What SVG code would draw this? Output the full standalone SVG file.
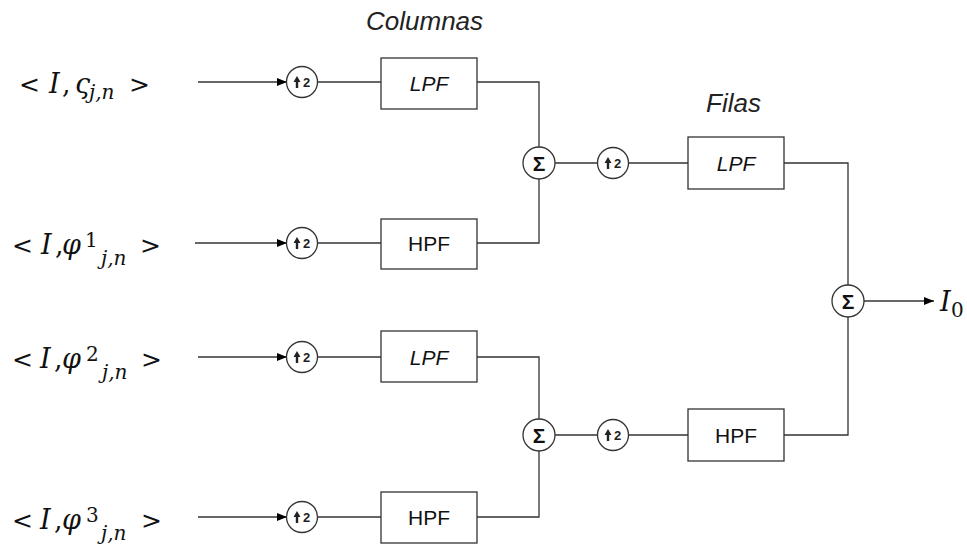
<svg xmlns="http://www.w3.org/2000/svg" width="967" height="546" viewBox="0 0 967 546">
  <defs>
    <marker id="arr" viewBox="0 0 10 10" refX="10" refY="5" markerWidth="10" markerHeight="10" markerUnits="userSpaceOnUse" orient="auto">
      <path d="M0,1 L10,5 L0,9 Z" fill="#000"/>
    </marker>
    <!-- upsample-by-2 symbol -->
    <g id="up2">
      <circle r="15.5" class="node"/>
      <path d="M-5,-6 L-1.5,0 L-3.8,0 L-3.8,6 L-6.2,6 L-6.2,0 L-8.5,0 Z" fill="#222"/>
      <text x="4.5" y="5" class="up">2</text>
    </g>
    <!-- adder symbol -->
    <g id="sum">
      <circle r="16" class="node"/>
      <text y="7.5" class="sig">Σ</text>
    </g>
  </defs>
  <style>
    .node { fill: #fff; stroke: #333; stroke-width: 1.3; }
    .box { fill: #fff; stroke: #333; stroke-width: 1.3; }
    .wire { fill: none; stroke: #333; stroke-width: 1.3; }
    .lbl { font-family: "Liberation Sans", Arial, sans-serif; font-size: 21px; fill: #111; text-anchor: middle; }
    .it { font-style: italic; }
    .title { font-family: "Liberation Sans", Arial, sans-serif; font-size: 26px; font-style: italic; fill: #222; }
    .up { font-family: "Liberation Sans", Arial, sans-serif; font-size: 13px; font-weight: bold; fill: #222; text-anchor: middle; }
    .sig { font-family: "Liberation Sans", Arial, sans-serif; font-size: 21px; font-weight: bold; fill: #111; text-anchor: middle; }
    .math { font-family: "DejaVu Serif", "Liberation Serif", serif; font-size: 27px; fill: #111; }
    .var { font-style: italic; }
    .rel { font-family: "DejaVu Sans", sans-serif; font-size: 25px; }
    .sub { font-size: 20px; }
  </style>
  <rect width="967" height="546" fill="#fff"/>

  <text class="title" x="366" y="30">Columnas</text>
  <text class="title" x="706" y="112">Filas</text>

  <!-- input coefficient labels -->
  <g id="in1">
    <text class="math" y="93"><tspan class="rel" x="19">&lt;</tspan><tspan class="var" x="49">I</tspan><tspan x="62">,</tspan><tspan class="var" x="75">ς</tspan><tspan class="sub var" x="89" y="99">j,n</tspan><tspan class="rel" x="129" y="93">&gt;</tspan></text>
  </g>
  <g id="in2">
    <text class="math" y="254"><tspan class="rel" x="12">&lt;</tspan><tspan class="var" x="41">I</tspan><tspan x="55">,</tspan><tspan class="var" x="62">φ</tspan><tspan class="sub" x="85" y="247">1</tspan><tspan class="sub var" x="101" y="265">j,n</tspan><tspan class="rel" x="140" y="254">&gt;</tspan></text>
  </g>
  <g id="in3">
    <text class="math" y="368"><tspan class="rel" x="12">&lt;</tspan><tspan class="var" x="40">I</tspan><tspan x="54">,</tspan><tspan class="var" x="62">φ</tspan><tspan class="sub" x="86" y="361">2</tspan><tspan class="sub var" x="102" y="379">j,n</tspan><tspan class="rel" x="141" y="368">&gt;</tspan></text>
  </g>
  <g id="in4">
    <text class="math" y="529"><tspan class="rel" x="12">&lt;</tspan><tspan class="var" x="40">I</tspan><tspan x="54">,</tspan><tspan class="var" x="62">φ</tspan><tspan class="sub" x="86" y="522">3</tspan><tspan class="sub var" x="101" y="540">j,n</tspan><tspan class="rel" x="141" y="529">&gt;</tspan></text>
  </g>

  <!-- connectors -->
  <g id="connectors">
    <line class="wire" x1="198" y1="82" x2="287" y2="82" marker-end="url(#arr)"/>
    <line class="wire" x1="195" y1="243" x2="287" y2="243" marker-end="url(#arr)"/>
    <line class="wire" x1="198" y1="357" x2="287" y2="357" marker-end="url(#arr)"/>
    <line class="wire" x1="198" y1="517" x2="287" y2="517" marker-end="url(#arr)"/>

    <line class="wire" x1="318" y1="82" x2="381" y2="82"/>
    <line class="wire" x1="318" y1="243" x2="381" y2="243"/>
    <line class="wire" x1="318" y1="357" x2="381" y2="357"/>
    <line class="wire" x1="318" y1="517" x2="381" y2="517"/>

    <polyline class="wire" points="477,82 539,82 539,147"/>
    <polyline class="wire" points="477,243 539,243 539,179"/>
    <polyline class="wire" points="477,357 539,357 539,419"/>
    <polyline class="wire" points="477,517 539,517 539,451"/>

    <line class="wire" x1="555" y1="163" x2="598" y2="163"/>
    <line class="wire" x1="555" y1="435" x2="598" y2="435"/>
    <line class="wire" x1="629" y1="163" x2="688" y2="163"/>
    <line class="wire" x1="629" y1="435" x2="688" y2="435"/>

    <polyline class="wire" points="784,163 848,163 848,285"/>
    <polyline class="wire" points="784,435 848,435 848,317"/>

    <line class="wire" x1="864" y1="301" x2="934" y2="301" marker-end="url(#arr)"/>
  </g>

  <!-- upsamplers -->
  <g id="up-a"><use href="#up2" x="302" y="82"/></g>
  <g id="up-b"><use href="#up2" x="302" y="243"/></g>
  <g id="up-c"><use href="#up2" x="302" y="357"/></g>
  <g id="up-d"><use href="#up2" x="302" y="517"/></g>
  <g id="up-e"><use href="#up2" x="613" y="163"/></g>
  <g id="up-f"><use href="#up2" x="613" y="435"/></g>

  <!-- column filters -->
  <g id="col-lpf1"><rect class="box" x="381" y="58" width="96" height="51"/><text class="lbl it" x="429" y="91">LPF</text></g>
  <g id="col-hpf1"><rect class="box" x="381" y="219" width="96" height="50"/><text class="lbl" x="429" y="251">HPF</text></g>
  <g id="col-lpf2"><rect class="box" x="381" y="331" width="96" height="51"/><text class="lbl it" x="429" y="365">LPF</text></g>
  <g id="col-hpf2"><rect class="box" x="381" y="492" width="96" height="51"/><text class="lbl" x="429" y="525">HPF</text></g>

  <!-- row filters -->
  <g id="row-lpf"><rect class="box" x="688" y="137" width="96" height="52"/><text class="lbl it" x="736" y="171">LPF</text></g>
  <g id="row-hpf"><rect class="box" x="688" y="409" width="96" height="52"/><text class="lbl" x="736" y="443">HPF</text></g>

  <!-- adders -->
  <g id="sum-a"><use href="#sum" x="539" y="163"/></g>
  <g id="sum-b"><use href="#sum" x="539" y="435"/></g>
  <g id="sum-c"><use href="#sum" x="848" y="301"/></g>

  <g id="out">
    <text class="math" y="311"><tspan class="var" x="940">I</tspan><tspan class="sub" x="951" y="317">0</tspan></text>
  </g>
</svg>
